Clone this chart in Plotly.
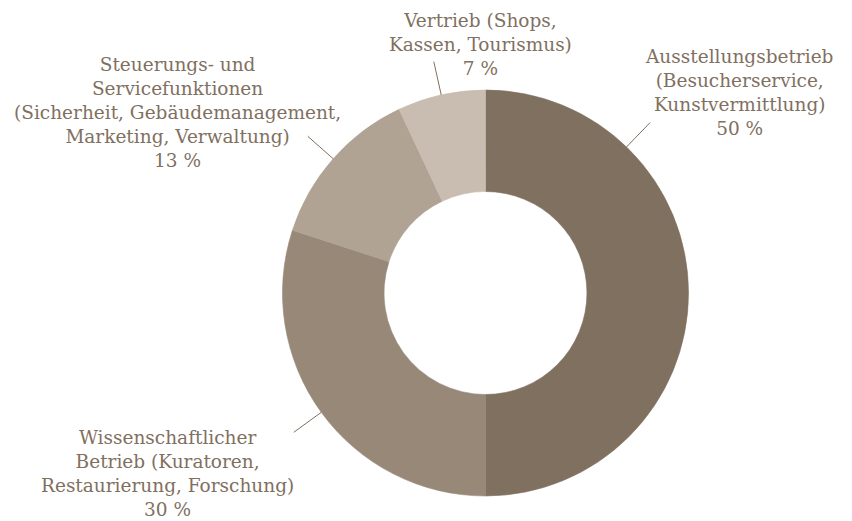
import math
import plotly.graph_objects as go

# ---- data ----
labels = [
    "Ausstellungsbetrieb<br>(Besucherservice,<br>Kunstvermittlung)",
    "Wissenschaftlicher<br>Betrieb (Kuratoren,<br>Restaurierung, Forschung)",
    "Steuerungs- und<br>Servicefunktionen<br>(Sicherheit, Gebäudemanagement,<br>Marketing, Verwaltung)",
    "Vertrieb (Shops,<br>Kassen, Tourismus)",
]
values = [50, 30, 13, 7]
colors = ["#7f705f", "#978878", "#b0a393", "#c9bdb1"]

# ---- layout constants (pixels, as seen in the page) ----
W, H = 852, 521
PAGE_OFFSET = 8                      # default body margin of the html page
CX, CY, R = 485.5, 293, 203
LINE_R0, LINE_R1 = 203, 237
angle_offset = [-46, 0, 0, 0]          # leader-line angle tweak per slice (deg)
label_center = [(739, 92), (167, 473), (177, 112), (480, 44)]  # text block centres (px)
TEXT_COLOR = "#7f705f"
FONT = "DejaVu Serif"

def px(x):
    return (x - PAGE_OFFSET) / W

def py(y):
    return 1 - (y - PAGE_OFFSET) / H

fig = go.Figure(go.Pie(
    values=values,
    labels=[l.replace("<br>", " ") for l in labels],
    marker=dict(colors=colors, line=dict(width=0.6, color=colors)),
    hole=0.5,
    sort=False,
    direction="clockwise",
    rotation=0,
    textinfo="none",
    hoverinfo="label+percent",
    showlegend=False,
    domain=dict(x=[px(CX - R), px(CX + R)], y=[py(CY + R), py(CY - R)]),
))

total = sum(values)
cum = 0
shapes = []
annotations = []
for i, v in enumerate(values):
    mid = (cum + v / 2) / total * 360 + angle_offset[i]
    cum += v
    a = math.radians(mid)
    x0, y0 = CX + LINE_R0 * math.sin(a), CY - LINE_R0 * math.cos(a)
    x1, y1 = CX + LINE_R1 * math.sin(a), CY - LINE_R1 * math.cos(a)
    shapes.append(dict(type="line", xref="paper", yref="paper",
                       x0=px(x0), y0=py(y0), x1=px(x1), y1=py(y1),
                       line=dict(color=TEXT_COLOR, width=1)))
    pct = round(v / total * 100)
    lx, ly = label_center[i]
    annotations.append(dict(
        xref="paper", yref="paper", x=px(lx), y=py(ly),
        xanchor="center", yanchor="middle", align="center",
        text=f"{labels[i]}<br>{pct} %", showarrow=False,
        font=dict(family=FONT, size=18.5, color=TEXT_COLOR),
    ))

fig.update_layout(
    width=W, height=H,
    margin=dict(l=0, r=0, t=0, b=0),
    paper_bgcolor="white", plot_bgcolor="white",
    shapes=shapes, annotations=annotations,
)

fig.write_html("out.html")
